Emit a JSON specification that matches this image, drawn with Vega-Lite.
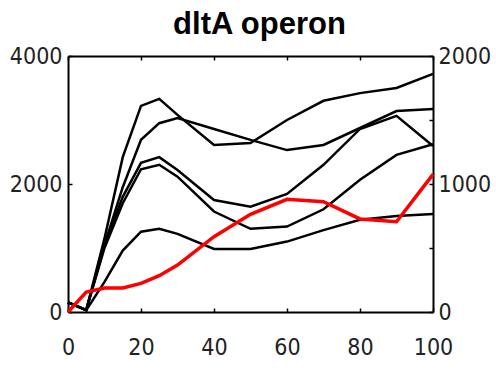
{
  "$schema": "https://vega.github.io/schema/vega-lite/v6.json",
  "width": 365,
  "height": 256,
  "autosize": {"type": "none"},
  "padding": {"left": 68, "top": 56, "right": 63, "bottom": 57},
  "background": "white",
  "title": {"text": "dltA operon", "font": "Liberation Sans", "fontSize": 31, "fontWeight": "bold", "color": "#000", "anchor": "middle", "frame": "group", "baseline": "bottom", "offset": 12, "dy": 39, "dx": 9},
  "config": {
    "view": {"stroke": null},
    "axis": {"domainColor": "#000", "domainWidth": 2, "tickColor": "#000", "tickWidth": 1.5, "tickSize": -4, "grid": false, "labelFlush": false, "labelOverlap": false, "labelFont": "'DejaVu Sans Condensed', 'Liberation Sans Narrow', 'Roboto Condensed', 'Liberation Sans', sans-serif", "labelFontSize": 23, "labelColor": "#222"}
  },
  "layer": [
    {
      "data": {"values": [
        {"s": "A", "x": 0, "y": 150}, {"s": "A", "x": 5, "y": 30}, {"s": "A", "x": 10, "y": 1150}, {"s": "A", "x": 15, "y": 2420}, {"s": "A", "x": 20, "y": 3220}, {"s": "A", "x": 25, "y": 3330}, {"s": "A", "x": 30, "y": 3080}, {"s": "A", "x": 40, "y": 2610}, {"s": "A", "x": 50, "y": 2640}, {"s": "A", "x": 60, "y": 3000}, {"s": "A", "x": 70, "y": 3300}, {"s": "A", "x": 80, "y": 3420}, {"s": "A", "x": 90, "y": 3500}, {"s": "A", "x": 100, "y": 3720},
        {"s": "B", "x": 0, "y": 150}, {"s": "B", "x": 5, "y": 30}, {"s": "B", "x": 10, "y": 1050}, {"s": "B", "x": 15, "y": 1950}, {"s": "B", "x": 20, "y": 2690}, {"s": "B", "x": 25, "y": 2950}, {"s": "B", "x": 30, "y": 3030}, {"s": "B", "x": 40, "y": 2860}, {"s": "B", "x": 50, "y": 2690}, {"s": "B", "x": 60, "y": 2530}, {"s": "B", "x": 70, "y": 2610}, {"s": "B", "x": 80, "y": 2875}, {"s": "B", "x": 90, "y": 3140}, {"s": "B", "x": 100, "y": 3170},
        {"s": "C", "x": 0, "y": 150}, {"s": "C", "x": 5, "y": 30}, {"s": "C", "x": 10, "y": 1050}, {"s": "C", "x": 15, "y": 1800}, {"s": "C", "x": 20, "y": 2330}, {"s": "C", "x": 25, "y": 2420}, {"s": "C", "x": 30, "y": 2220}, {"s": "C", "x": 40, "y": 1750}, {"s": "C", "x": 50, "y": 1645}, {"s": "C", "x": 60, "y": 1845}, {"s": "C", "x": 70, "y": 2300}, {"s": "C", "x": 80, "y": 2860}, {"s": "C", "x": 90, "y": 3065}, {"s": "C", "x": 100, "y": 2595},
        {"s": "D", "x": 0, "y": 150}, {"s": "D", "x": 5, "y": 30}, {"s": "D", "x": 10, "y": 1000}, {"s": "D", "x": 15, "y": 1700}, {"s": "D", "x": 20, "y": 2230}, {"s": "D", "x": 25, "y": 2300}, {"s": "D", "x": 30, "y": 2115}, {"s": "D", "x": 40, "y": 1570}, {"s": "D", "x": 50, "y": 1300}, {"s": "D", "x": 60, "y": 1335}, {"s": "D", "x": 70, "y": 1605}, {"s": "D", "x": 80, "y": 2065}, {"s": "D", "x": 90, "y": 2455}, {"s": "D", "x": 100, "y": 2620},
        {"s": "E", "x": 0, "y": 150}, {"s": "E", "x": 5, "y": 30}, {"s": "E", "x": 10, "y": 470}, {"s": "E", "x": 15, "y": 960}, {"s": "E", "x": 20, "y": 1255}, {"s": "E", "x": 25, "y": 1300}, {"s": "E", "x": 30, "y": 1220}, {"s": "E", "x": 40, "y": 985}, {"s": "E", "x": 50, "y": 985}, {"s": "E", "x": 60, "y": 1100}, {"s": "E", "x": 70, "y": 1280}, {"s": "E", "x": 80, "y": 1440}, {"s": "E", "x": 90, "y": 1500}, {"s": "E", "x": 100, "y": 1530}
      ]},
      "mark": {"type": "line", "color": "#000", "strokeWidth": 2.5, "clip": false},
      "encoding": {
        "x": {"field": "x", "type": "quantitative", "title": null, "scale": {"domain": [0, 100], "nice": false}, "axis": {"orient": "bottom", "values": [0, 20, 40, 60, 80, 100], "labelPadding": 28, "labelBaseline": "top"}},
        "y": {"field": "y", "type": "quantitative", "title": null, "scale": {"domain": [0, 4000], "nice": false}, "axis": {"orient": "left", "values": [0, 2000, 4000], "format": "d", "labelPadding": 10}},
        "detail": {"field": "s"}
      }
    },
    {
      "data": {"values": [
        {"x": 0, "y": 0}, {"x": 5, "y": 155}, {"x": 10, "y": 188}, {"x": 15, "y": 188}, {"x": 20, "y": 224}, {"x": 25, "y": 284}, {"x": 30, "y": 367}, {"x": 40, "y": 588}, {"x": 50, "y": 763}, {"x": 60, "y": 880}, {"x": 70, "y": 862}, {"x": 80, "y": 727}, {"x": 90, "y": 705}, {"x": 100, "y": 1075}
      ]},
      "mark": {"type": "line", "color": "#ff0000", "strokeWidth": 3.5, "clip": false},
      "encoding": {
        "x": {"field": "x", "type": "quantitative", "title": null, "scale": {"domain": [0, 100], "nice": false}, "axis": {"orient": "top", "values": [0, 20, 40, 60, 80, 100], "labels": false}},
        "y": {"field": "y", "type": "quantitative", "title": null, "scale": {"domain": [0, 2000], "nice": false}, "axis": {"orient": "right", "values": [0, 500, 1000, 1500, 2000], "format": "d", "labelExpr": "datum.value % 1000 === 0 ? datum.label : ''", "labelPadding": 9}}
      }
    }
  ],
  "resolve": {"scale": {"x": "independent", "y": "independent"}, "axis": {"x": "independent", "y": "independent"}}
}
